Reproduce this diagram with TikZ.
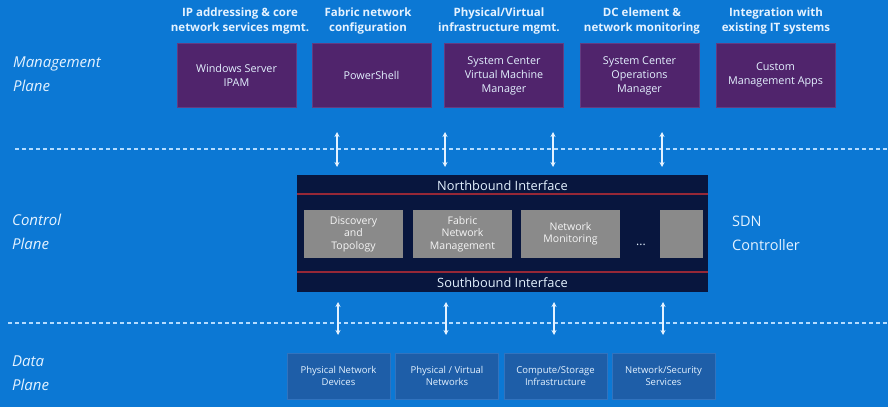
\documentclass[tikz,border=0pt]{standalone}
\usepackage{fontspec}
\setmainfont{Open Sans}
\usetikzlibrary{arrows.meta}
\definecolor{bgblue}{RGB}{12,120,212}
\definecolor{mpurple}{RGB}{80,36,108}
\definecolor{mpurpleb}{RGB}{100,60,130}
\definecolor{navy}{RGB}{8,22,62}
\definecolor{redline}{RGB}{150,40,55}
\definecolor{gbox}{RGB}{138,138,138}
\definecolor{dbox}{RGB}{30,94,168}
\definecolor{dboxb}{RGB}{50,115,190}
\definecolor{lighttxt}{RGB}{228,242,255}
\definecolor{dashc}{RGB}{180,220,255}
\begin{document}
\begin{tikzpicture}[x=1pt,y=-1pt,
  toplab/.style={align=center,text=lighttxt,font=\bfseries\fontsize{11.5}{15}\selectfont,inner sep=0pt},
  mbox/.style={fill=mpurple,draw=mpurpleb,line width=0.6pt,minimum width=119pt,minimum height=64pt,align=center,text=lighttxt,font=\fontsize{10.8}{14}\selectfont,inner sep=0pt},
  plane/.style={align=left,anchor=west,text=lighttxt,font=\itshape\fontsize{15}{24}\selectfont,inner sep=0pt},
  gbx/.style={fill=gbox,minimum width=99pt,minimum height=48pt,align=center,text=white!92!gray,font=\fontsize{10.5}{12.5}\selectfont,inner sep=0pt},
  dbx/.style={fill=dbox,draw=dboxb,line width=0.6pt,minimum width=103pt,minimum height=46pt,align=center,text=lighttxt,font=\fontsize{9.5}{12}\selectfont,inner sep=0pt},
  biarrow/.style={draw=lighttxt,line width=1.3pt,{Stealth[length=5pt,width=5pt]}-{Stealth[length=5pt,width=5pt]}},
  dashline/.style={draw=dashc,line width=1.2pt,dash pattern=on 4pt off 3pt},
  iface/.style={text=lighttxt,font=\fontsize{12.8}{14}\selectfont,inner sep=0pt}
]
\useasboundingbox (0,0) rectangle (888,407);
\fill[bgblue] (0,0) rectangle (888,407);

% top labels
\node[toplab] (t1) at (240,21) {IP addressing \& core\\network services mgmt.};
\node[toplab] (t2) at (368,21) {Fabric network\\configuration};
\node[toplab] (t3) at (499,21) {Physical/Virtual\\infrastructure mgmt.};
\node[toplab] (t4) at (642,21) {DC element \&\\network monitoring};
\node[toplab] (t5) at (776,21) {Integration with\\existing IT systems};

% management boxes
\node[mbox] (m1) at (236.5,75.5) {Windows Server\\IPAM};
\node[mbox] (m2) at (371.5,75.5) {PowerShell};
\node[mbox] (m3) at (504,75.5) {System Center\\Virtual Machine\\Manager};
\node[mbox] (m4) at (639.5,75.5) {System Center\\Operations\\Manager};
\node[mbox] (m5) at (775.5,75) {Custom\\Management Apps};

% plane labels
\node[plane] (pm) at (13,74) {Management\\Plane};
\node[plane] (pc) at (12,231.5) {Control\\Plane};
\node[plane] (pd) at (12,373) {Data\\Plane};

% dashed separators
\coordinate (d1a) at (15,149);
\coordinate (d1b) at (888,149);
\coordinate (d2a) at (8,323);
\coordinate (d2b) at (888,323);
\draw[dashline] (d1a) -- (d1b);
\draw[dashline] (d2a) -- (d2b);

% controller
\node[fill=navy,minimum width=411pt,minimum height=117pt,inner sep=0pt] (ctrl) at (502.5,233.5) {};
\coordinate (r1a) at (297,194);
\coordinate (r1b) at (708,194);
\coordinate (r2a) at (297,272);
\coordinate (r2b) at (708,272);
\draw[redline,line width=1.2pt] (r1a) -- (r1b);
\draw[redline,line width=1.2pt] (r2a) -- (r2b);
\node[iface] (nb) at (502.5,185.5) {Northbound Interface};
\node[iface] (sb) at (502.5,283) {Southbound Interface};

\node[gbx] (g1) at (353.5,234) {Discovery\\and\\Topology};
\node[gbx] (g2) at (462.5,234) {Fabric\\Network\\Management};
\node[gbx] (g3) at (570.5,234) {Network\\Monitoring};
\node[text=lighttxt,font=\fontsize{12}{13}\selectfont,inner sep=0pt] (dots) at (641,245) {...};
\node[gbx,minimum width=43pt] (g4) at (681.5,234) {};

\node[plane,font=\fontsize{14.5}{24}\selectfont] (sdn) at (732,233) {SDN\\Controller};

% data plane boxes
\node[dbx] (b1) at (338.5,376) {Physical Network\\Devices};
\node[dbx] (b2) at (447,376) {Physical / Virtual\\Networks};
\node[dbx] (b3) at (555.5,376) {Compute/Storage\\Infrastructure};
\node[dbx] (b4) at (663.5,376) {Network/Security\\Services};

% arrows
\foreach \i/\x in {1/337,2/445,3/553,4/662} {
  \coordinate (ua\i) at (\x,132);
  \coordinate (ub\i) at (\x,167);
  \draw[biarrow] (ua\i) -- (ub\i);
  \coordinate (la\i) at (\x+1,302);
  \coordinate (lb\i) at (\x+1,335);
  \draw[biarrow] (la\i) -- (lb\i);
}
\end{tikzpicture}
\end{document}
